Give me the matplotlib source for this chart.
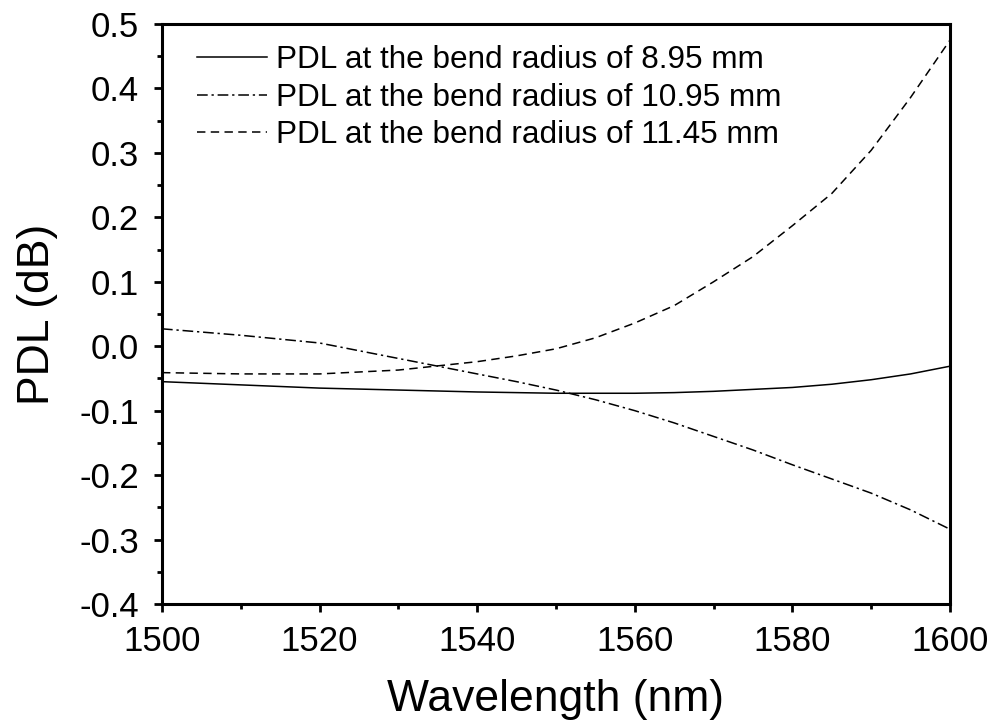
import matplotlib.pyplot as plt
from matplotlib.ticker import MultipleLocator

plt.rcParams['font.family'] = ['Liberation Sans', 'DejaVu Sans']

# wavelength grid (nm) and PDL (dB)
wl = [1500, 1510, 1520, 1530, 1540, 1545, 1550, 1555, 1560, 1565,
      1570, 1575, 1580, 1585, 1590, 1595, 1600]

pdl_895 = [-0.055, -0.060, -0.065, -0.068, -0.071, -0.072, -0.073, -0.073, -0.073, -0.072,
           -0.070, -0.067, -0.064, -0.059, -0.052, -0.043, -0.031]
pdl_1095 = [0.027, 0.017, 0.005, -0.019, -0.043, -0.055, -0.068, -0.083, -0.100, -0.119,
            -0.140, -0.161, -0.184, -0.206, -0.228, -0.254, -0.284]
pdl_1145 = [-0.041, -0.043, -0.043, -0.037, -0.024, -0.015, -0.004, 0.013, 0.036, 0.063,
            0.100, 0.139, 0.187, 0.237, 0.304, 0.386, 0.475]

labels = ['PDL at the bend radius of 8.95 mm',
          'PDL at the bend radius of 10.95 mm',
          'PDL at the bend radius of 11.45 mm']

fig = plt.figure(figsize=(9.98, 7.27), dpi=100)
ax = fig.add_axes([0.1623, 0.1692, 0.7896, 0.7978])

ax.plot(wl, pdl_895, color='black', lw=1.1, ls='-', label=labels[0])
ax.plot(wl, pdl_1095, color='black', lw=1.1, ls=(0, (7, 2.5, 1.5, 2.5)), label=labels[1])
ax.plot(wl, pdl_1145, color='black', lw=1.1, ls=(0, (5.5, 3.5)), label=labels[2])

ax.set_xlim(1500, 1600)
ax.set_ylim(-0.4, 0.5)
ax.xaxis.set_major_locator(MultipleLocator(20))
ax.xaxis.set_minor_locator(MultipleLocator(10))
ax.yaxis.set_major_locator(MultipleLocator(0.1))
ax.yaxis.set_minor_locator(MultipleLocator(0.05))
ax.yaxis.set_major_formatter(plt.FuncFormatter(lambda v, p: f'{v:.1f}'))

for s in ['top', 'right', 'left', 'bottom']:
    ax.spines[s].set_linewidth(2.2)

ax.tick_params(which='major', direction='out', length=6, width=2, labelsize=25)
ax.tick_params(axis='y', which='major', pad=10.5)
ax.tick_params(axis='x', which='major', pad=9)
ax.tick_params(which='minor', direction='out', length=3.5, width=2)
ax.tick_params(top=False, right=False)

ax.set_xlabel('Wavelength (nm)', fontsize=32, labelpad=15.5)
ax.set_ylabel('PDL (dB)', fontsize=32, labelpad=15.5)

ax.legend(loc='upper left', bbox_to_anchor=(0.028, 0.985), frameon=False, fontsize=22.7,
          handlelength=2.22, handletextpad=0.29, labelspacing=0.23, borderaxespad=0)

fig.savefig('out.png', dpi=100)
